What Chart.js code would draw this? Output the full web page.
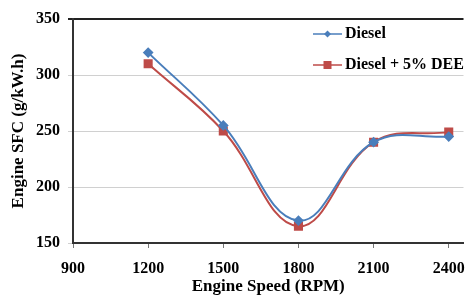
<!DOCTYPE html>
<html>
<head>
<meta charset="utf-8">
<script src="https://cdn.jsdelivr.net/npm/chart.js@4"></script>
<style>
  html, body { margin: 0; padding: 0; background: #fff; }
  #wrap { width: 476px; height: 297px; }
</style>
</head>
<body>
<div id="wrap"><canvas id="myChart" width="476" height="297"></canvas></div>
<script>
var speeds = [1200, 1500, 1800, 2100, 2400];
var diesel = [320, 255, 170, 240, 245];
var dee = [310, 250, 165, 240, 249];
var xTicks = [900, 1200, 1500, 1800, 2100, 2400];
var seriesNames = ['Diesel', 'Diesel + 5% DEE'];

var FAMILY = '"Liberation Serif", "Times New Roman", serif';
var tickFont = { family: FAMILY, weight: 'bold', size: 16 };
var titleFont = { family: FAMILY, weight: 'bold', size: 17 };

function pts(vals) {
    return speeds.map(function (s, i) { return { x: s, y: vals[i] }; });
}

// legend drawn inside the plot, top right, like the excel chart
var insideLegend = {
    id: 'insideLegend',
    afterDraw: function (chart) {
        var c = chart.ctx;
        var area = chart.chartArea;
        c.save();
        c.font = 'bold 16px ' + FAMILY;
        c.textBaseline = 'middle';
        chart.data.datasets.forEach(function (ds, i) {
            var y = area.top + 15 + i * 31;
            var x0 = area.left + 240;
            c.strokeStyle = ds.borderColor;
            c.lineWidth = 1.5;
            c.beginPath();
            c.moveTo(x0, y);
            c.lineTo(x0 + 29, y);
            c.stroke();
            c.fillStyle = ds.borderColor;
            var mx = x0 + 14.5;
            if (ds.pointStyle === 'rectRot') {
                c.beginPath();
                c.moveTo(mx, y - 3.5); c.lineTo(mx + 3.5, y);
                c.lineTo(mx, y + 3.5); c.lineTo(mx - 3.5, y);
                c.closePath(); c.fill();
            } else {
                c.fillRect(mx - 4, y - 4, 8, 8);
            }
            c.fillStyle = '#000';
            c.fillText(ds.label, x0 + 32, y);
        });
        c.restore();
    }
};

var ctx = document.getElementById('myChart').getContext('2d');
var graphData = {
    type: 'line',
    data: {
        datasets: [{
            label: seriesNames[0],
            data: pts(diesel),
            borderColor: '#4a7ebb',
            backgroundColor: '#4a7ebb',
            pointStyle: 'rectRot',
            pointRadius: 4,
            borderWidth: 2,
            tension: 0.4
        }, {
            label: seriesNames[1],
            data: pts(dee),
            borderColor: '#be4b48',
            backgroundColor: '#be4b48',
            pointStyle: 'rect',
            pointRadius: 5,
            borderWidth: 2,
            tension: 0.4
        }]
    },
    options: {
        responsive: false,
        animation: false,
        layout: { padding: { top: 19, right: 0, left: 0, bottom: 0 } },
        plugins: {
            legend: { display: false },
            tooltip: { enabled: false }
        },
        scales: {
            x: {
                type: 'linear',
                min: 900,
                max: 2459,
                afterBuildTicks: function (axis) {
                    axis.ticks = xTicks.map(function (v) { return { value: v }; });
                },
                afterFit: function (axis) { axis.height = 54; },
                grid: { display: true, drawOnChartArea: false, tickLength: 5, color: '#777' },
                border: { color: '#333', width: 2 },
                ticks: {
                    font: tickFont, color: '#000', maxRotation: 0, padding: 11,
                    callback: function (v) { return String(v); }
                },
                title: { display: true, text: 'Engine Speed (RPM)', font: titleFont, color: '#000', padding: 0 }
            },
            y: {
                min: 150,
                max: 350,
                afterFit: function (axis) { axis.width = 73; },
                ticks: { stepSize: 50, font: tickFont, color: '#000', padding: 8 },
                grid: {
                    tickLength: 5,
                    color: function (c) { return c.tick && c.tick.value === 350 ? '#222' : '#d0d0d0'; },
                    lineWidth: function (c) { return c.tick && c.tick.value === 350 ? 2 : 1; }
                },
                border: { color: '#333', width: 2 },
                title: { display: true, text: 'Engine SFC (g/kW.h)', font: titleFont, color: '#000', padding: { top: 8, bottom: 4 } }
            }
        }
    },
    plugins: [insideLegend]
};
var myChart = new Chart(ctx, graphData);
</script>
</body>
</html>
